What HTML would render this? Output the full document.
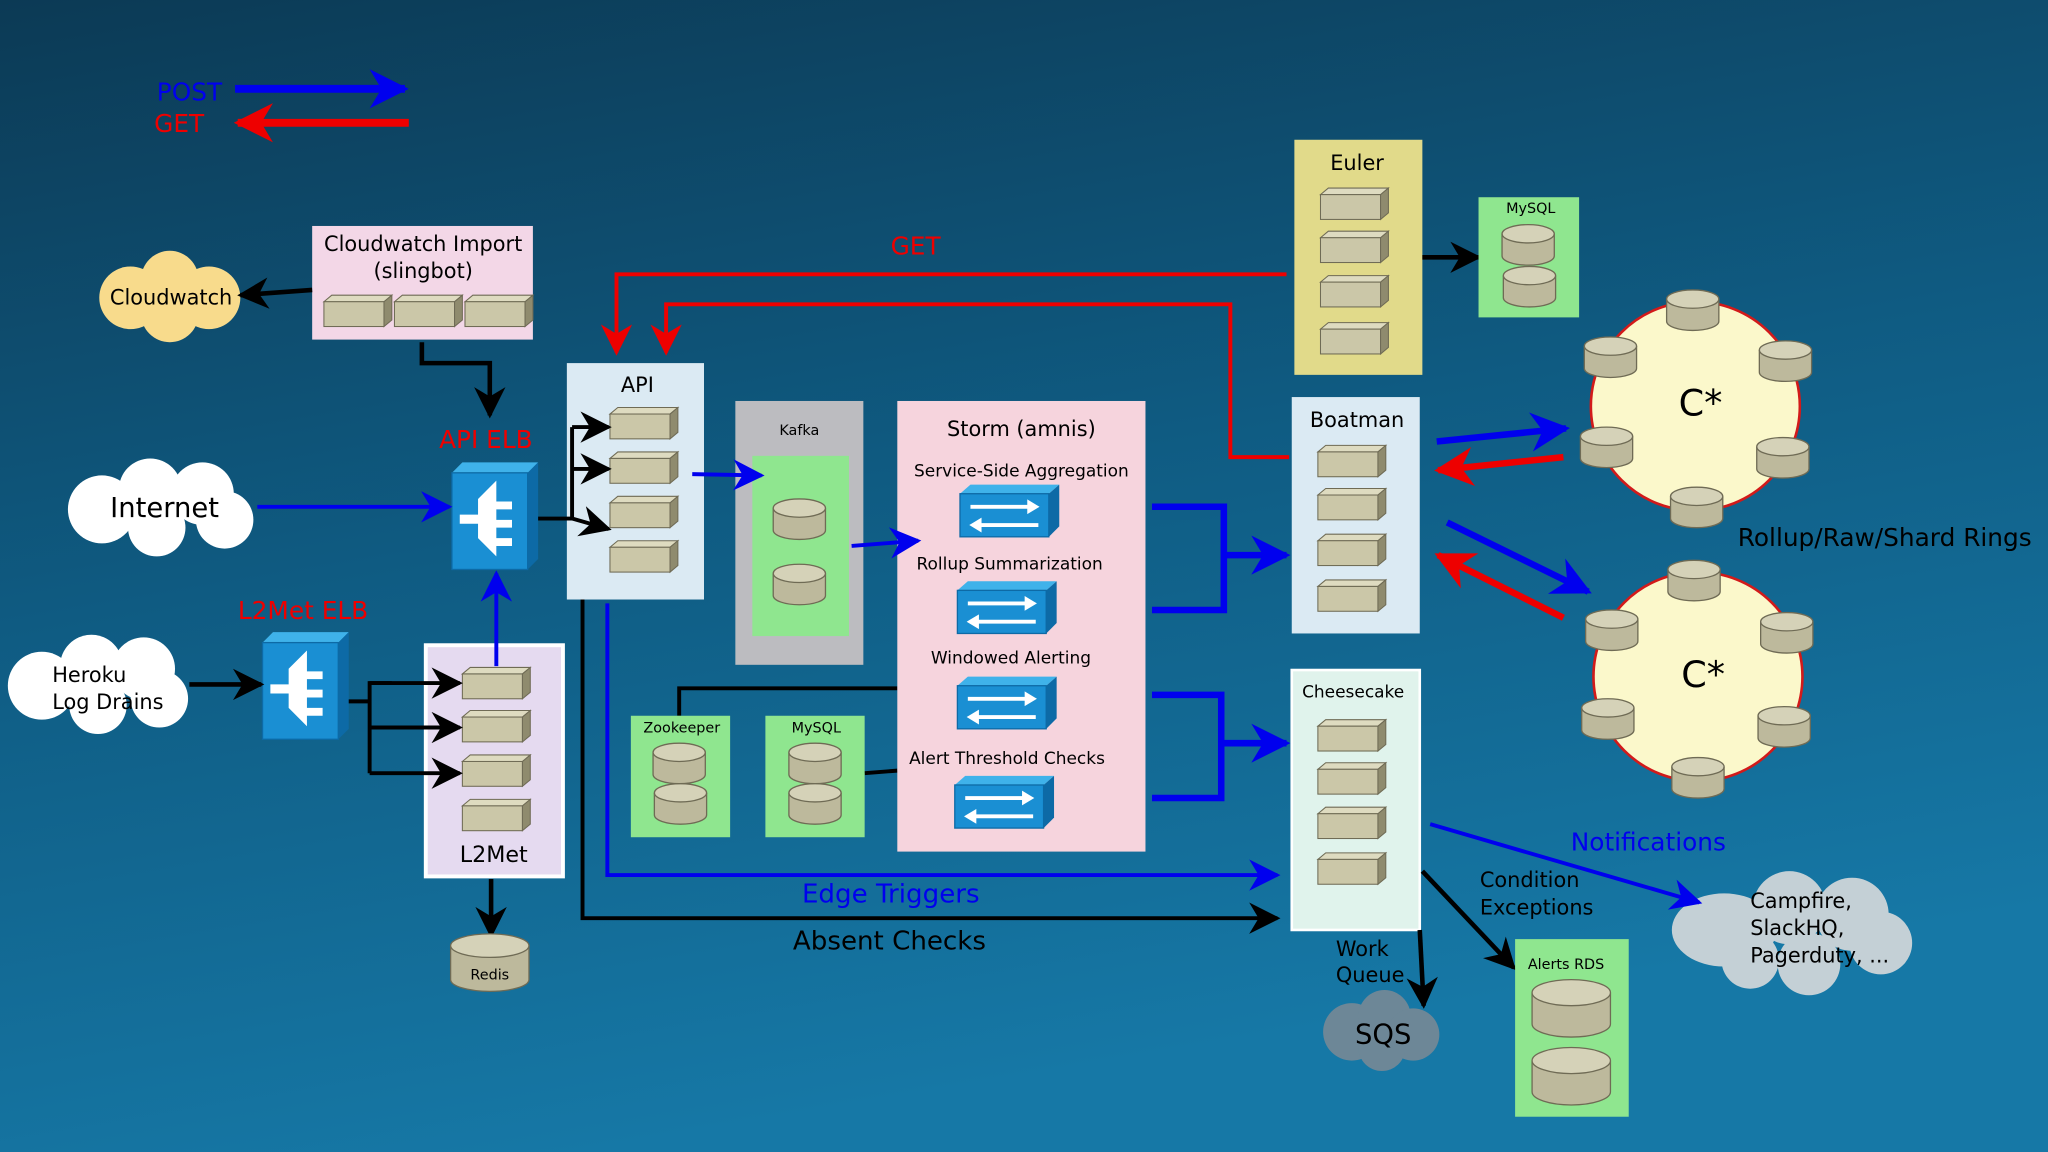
<!DOCTYPE html>
<html><head><meta charset="utf-8"><style>
html,body{margin:0;padding:0;width:2048px;height:1152px;overflow:hidden}
svg{display:block}
text{font-family:"DejaVu Sans","Liberation Sans",sans-serif}
</style></head><body>
<svg width="2048" height="1152" viewBox="0 0 1568 882" xmlns="http://www.w3.org/2000/svg">
<defs>
<linearGradient id="bg" x1="0" y1="0" x2="0.3" y2="1">
<stop offset="0" stop-color="#0c3a55"/><stop offset="0.5" stop-color="#0f5b82"/><stop offset="1" stop-color="#1678a6"/>
</linearGradient>
<marker id="ab" viewBox="0 0 10 10" refX="9" refY="5" markerUnits="userSpaceOnUse" markerWidth="24" markerHeight="24" orient="auto"><path d="M0,0L10,5L0,10L3,5z" fill="#0000ee"/></marker>
<marker id="ar" viewBox="0 0 10 10" refX="9" refY="5" markerUnits="userSpaceOnUse" markerWidth="24" markerHeight="24" orient="auto"><path d="M0,0L10,5L0,10L3,5z" fill="#ee0000"/></marker>
<marker id="ak" viewBox="0 0 10 10" refX="9" refY="5" markerUnits="userSpaceOnUse" markerWidth="24" markerHeight="24" orient="auto"><path d="M0,0L10,5L0,10L3,5z" fill="#000"/></marker>
<marker id="abL" viewBox="0 0 10 10" refX="9" refY="5" markerUnits="userSpaceOnUse" markerWidth="30" markerHeight="30" orient="auto"><path d="M0,0L10,5L0,10L3,5z" fill="#0000ee"/></marker>
<marker id="arL" viewBox="0 0 10 10" refX="9" refY="5" markerUnits="userSpaceOnUse" markerWidth="30" markerHeight="30" orient="auto"><path d="M0,0L10,5L0,10L3,5z" fill="#ee0000"/></marker>
<g id="srv"><polygon points="0,5 6,0 52,0 46,5" fill="#dedbc0" stroke="#6f6b55" stroke-width="0.8"/><rect x="0" y="5" width="46" height="19" fill="#cbc7a8" stroke="#6f6b55" stroke-width="0.8"/><polygon points="46,5 52,0 52,19 46,24" fill="#8f8b6e" stroke="#6f6b55" stroke-width="0.8"/></g>
<g id="cyl"><path d="M0,7 L0,24 A20,7 0 0 0 40,24 L40,7" fill="#bdb99c" stroke="#6f6b55"/><ellipse cx="20" cy="7" rx="20" ry="7" fill="#d5d2b8" stroke="#6f6b55"/></g>
<g id="strm"><polygon points="0,7 8,0 76,0 68,7" fill="#3fb2ea"/><rect x="0" y="7" width="68" height="33" fill="#1a8fd3" stroke="#0d6aa6"/><polygon points="68,7 76,0 76,32 68,40" fill="#0d6aa6"/><path d="M8,17 H58 M58,17 l-5,-3 v6z M60,31 H10 M10,31 l5,-3 v6z" stroke="#fff" stroke-width="3" fill="#fff"/></g>
<g id="elb"><polygon points="0,8 8,0 66,0 58,8" fill="#3fb2ea"/><rect x="0" y="8" width="58" height="74" fill="#1a8fd3" stroke="#0d6aa6"/><polygon points="58,8 66,0 66,74 58,82" fill="#0d6aa6"/><path d="M20,28 L34,14 L34,72 L20,58 L20,47 L6,47 L6,40 L20,40z M34,30 H46 V36 H34z M34,44 H46 V50 H34z M34,58 H46 V64 H34z" fill="#fff"/></g>
</defs>
<rect width="1568" height="882" fill="url(#bg)"/>

<!-- legend -->
<text x="120" y="77" fill="#0000ee" font-size="19">POST</text>
<line x1="180" y1="68" x2="310" y2="68" stroke="#0000ee" stroke-width="6" marker-end="url(#abL)"/>
<text x="118" y="101" fill="#ee0000" font-size="19">GET</text>
<line x1="313" y1="94" x2="182" y2="94" stroke="#ee0000" stroke-width="6" marker-end="url(#arL)"/>

<!-- clouds -->
<g fill="#f8db8c"><circle cx="100" cy="228" r="24"/><circle cx="130" cy="214" r="22"/><circle cx="160" cy="228" r="24"/><circle cx="130" cy="240" r="22"/></g>
<text x="131" y="233" font-size="16" text-anchor="middle">Cloudwatch</text>
<g fill="#fff"><circle cx="78" cy="390" r="26"/><circle cx="115" cy="375" r="24"/><circle cx="155" cy="378" r="24"/><circle cx="172" cy="398" r="22"/><circle cx="120" cy="404" r="22"/></g>
<text x="126" y="396" font-size="21" text-anchor="middle">Internet</text>
<g fill="#fff"><circle cx="32" cy="525" r="26"/><circle cx="70" cy="510" r="24"/><circle cx="110" cy="512" r="24"/><circle cx="122" cy="535" r="22"/><circle cx="75" cy="540" r="22"/></g>
<text x="40" y="522" font-size="16">Heroku</text><text x="40" y="543" font-size="16">Log Drains</text>
<g fill="#c4d0d6"><ellipse cx="1320" cy="712" rx="40" ry="28"/><circle cx="1370" cy="695" r="28"/><circle cx="1418" cy="700" r="28"/><circle cx="1440" cy="722" r="24"/><circle cx="1385" cy="738" r="24"/><circle cx="1340" cy="735" r="22"/></g>
<text x="1340" y="695" font-size="16">Campfire,</text><text x="1340" y="716" font-size="16">SlackHQ,</text><text x="1340" y="737" font-size="16">Pagerduty, ...</text>
<g fill="#6d8797"><circle cx="1035" cy="790" r="22"/><circle cx="1060" cy="778" r="20"/><circle cx="1082" cy="792" r="20"/><circle cx="1058" cy="802" r="18"/></g>
<text x="1059" y="799" font-size="21" text-anchor="middle">SQS</text>

<!-- Cloudwatch import -->
<rect x="239" y="173" width="169" height="87" fill="#f3d7e7"/>
<text x="324" y="192" font-size="16" text-anchor="middle">Cloudwatch Import</text>
<text x="324" y="213" font-size="16" text-anchor="middle">(slingbot)</text>
<use href="#srv" x="248" y="226"/><use href="#srv" x="302" y="226"/><use href="#srv" x="356" y="226"/>
<line x1="239" y1="222" x2="184" y2="226" stroke="#000" stroke-width="3.5" marker-end="url(#ak)"/>
<polyline points="323,262 323,278 375,278 375,318" fill="none" stroke="#000" stroke-width="3.5" marker-end="url(#ak)"/>

<!-- ELBs -->
<text x="372" y="343" fill="#ee0000" font-size="19" text-anchor="middle">API ELB</text>
<use href="#elb" x="346" y="354"/>
<line x1="197" y1="388" x2="344" y2="388" stroke="#0000ee" stroke-width="3" marker-end="url(#ab)"/>
<text x="232" y="474" fill="#ee0000" font-size="19" text-anchor="middle">L2Met ELB</text>
<use href="#elb" x="201" y="484"/>
<line x1="145" y1="524" x2="200" y2="524" stroke="#000" stroke-width="3.5" marker-end="url(#ak)"/>

<!-- L2Met -->
<rect x="326" y="494" width="105" height="177" fill="#e5daf0" stroke="#fff" stroke-width="3"/>
<use href="#srv" x="354" y="511"/><use href="#srv" x="354" y="544"/><use href="#srv" x="354" y="578"/><use href="#srv" x="354" y="612"/>
<text x="378" y="660" font-size="17" text-anchor="middle">L2Met</text>
<path d="M267,537 H283 V592 M283,537 V523 H300" fill="none" stroke="#000" stroke-width="3"/>
<line x1="283" y1="523" x2="352" y2="523" stroke="#000" stroke-width="3" marker-end="url(#ak)"/>
<line x1="283" y1="557" x2="352" y2="557" stroke="#000" stroke-width="3" marker-end="url(#ak)"/>
<line x1="283" y1="592" x2="352" y2="592" stroke="#000" stroke-width="3" marker-end="url(#ak)"/>
<line x1="380" y1="510" x2="380" y2="439" stroke="#0000ee" stroke-width="3" marker-end="url(#ab)"/>
<line x1="376" y1="673" x2="376" y2="716" stroke="#000" stroke-width="3.5" marker-end="url(#ak)"/>
<path d="M345,724 L345,750 A30,9 0 0 0 405,750 L405,724" fill="#bdb99c" stroke="#6f6b55"/><ellipse cx="375" cy="724" rx="30" ry="9" fill="#d5d2b8" stroke="#6f6b55"/>
<text x="375" y="750" font-size="11" text-anchor="middle">Redis</text>

<!-- API -->
<rect x="434" y="278" width="105" height="181" fill="#dbeaf3"/>
<text x="488" y="300" font-size="16" text-anchor="middle">API</text>
<use href="#srv" x="467" y="312"/><use href="#srv" x="467" y="346"/><use href="#srv" x="467" y="380"/><use href="#srv" x="467" y="414"/>
<path d="M412,397 H438 M438,327 V397" stroke="#000" stroke-width="3" fill="none"/>
<line x1="438" y1="327" x2="466" y2="327" stroke="#000" stroke-width="3" marker-end="url(#ak)"/>
<line x1="438" y1="359" x2="466" y2="359" stroke="#000" stroke-width="3" marker-end="url(#ak)"/>
<line x1="438" y1="397" x2="466" y2="405" stroke="#000" stroke-width="3" marker-end="url(#ak)"/>

<!-- Kafka -->
<rect x="563" y="307" width="98" height="202" fill="#bcbcc0"/>
<text x="612" y="333" font-size="11" text-anchor="middle">Kafka</text>
<rect x="576" y="349" width="74" height="138" fill="#8fe68f"/>
<use href="#cyl" x="592" y="382"/><use href="#cyl" x="592" y="432"/>
<line x1="530" y1="363" x2="583" y2="364" stroke="#0000ee" stroke-width="3" marker-end="url(#ab)"/>

<!-- Zookeeper & MySQL -->
<polyline points="520,548 520,527 687,527" fill="none" stroke="#000" stroke-width="3"/>
<line x1="662" y1="592" x2="687" y2="590" stroke="#000" stroke-width="3"/>
<rect x="483" y="548" width="76" height="93" fill="#8fe68f"/>
<text x="522" y="561" font-size="11" text-anchor="middle">Zookeeper</text>
<use href="#cyl" x="500" y="569"/><use href="#cyl" x="501" y="600"/>
<rect x="586" y="548" width="76" height="93" fill="#8fe68f"/>
<text x="625" y="561" font-size="11" text-anchor="middle">MySQL</text>
<use href="#cyl" x="604" y="569"/><use href="#cyl" x="604" y="600"/>

<!-- Storm -->
<rect x="687" y="307" width="190" height="345" fill="#f6d4dd"/>
<text x="782" y="334" font-size="16" text-anchor="middle">Storm (amnis)</text>
<text x="782" y="365" font-size="13" text-anchor="middle">Service-Side Aggregation</text>
<use href="#strm" x="735" y="371"/>
<text x="773" y="436" font-size="13" text-anchor="middle">Rollup Summarization</text>
<use href="#strm" x="733" y="445"/>
<text x="774" y="508" font-size="13" text-anchor="middle">Windowed Alerting</text>
<use href="#strm" x="733" y="518"/>
<text x="771" y="585" font-size="13" text-anchor="middle">Alert Threshold Checks</text>
<use href="#strm" x="731" y="594"/>
<line x1="652" y1="418" x2="703" y2="414" stroke="#0000ee" stroke-width="3" marker-end="url(#ab)"/>

<!-- storm to boatman / cheesecake -->
<polyline points="882,388 937,388 937,467 882,467" fill="none" stroke="#0000ee" stroke-width="5"/>
<line x1="937" y1="425" x2="985" y2="425" stroke="#0000ee" stroke-width="5" marker-end="url(#abL)"/>
<polyline points="882,532 935,532 935,611 882,611" fill="none" stroke="#0000ee" stroke-width="5"/>
<line x1="935" y1="569" x2="985" y2="569" stroke="#0000ee" stroke-width="5" marker-end="url(#abL)"/>

<!-- edge triggers / absent checks -->
<polyline points="465,462 465,670 978,670" fill="none" stroke="#0000ee" stroke-width="3" marker-end="url(#ab)"/>
<text x="682" y="691" fill="#0000ee" font-size="20" text-anchor="middle">Edge Triggers</text>
<polyline points="446,459 446,703 978,703" fill="none" stroke="#000" stroke-width="3" marker-end="url(#ak)"/>
<text x="681" y="727" font-size="20" text-anchor="middle">Absent Checks</text>

<!-- GET red lines -->
<polyline points="985,210 472,210 472,270" fill="none" stroke="#ee0000" stroke-width="3" marker-end="url(#ar)"/>
<polyline points="987,350 942,350 942,233 510,233 510,270" fill="none" stroke="#ee0000" stroke-width="3" marker-end="url(#ar)"/>
<text x="701" y="195" fill="#ee0000" font-size="19" text-anchor="middle">GET</text>

<!-- Euler -->
<rect x="991" y="107" width="98" height="180" fill="#e1da8a"/>
<text x="1039" y="130" font-size="16" text-anchor="middle">Euler</text>
<use href="#srv" x="1011" y="144"/><use href="#srv" x="1011" y="177"/><use href="#srv" x="1011" y="211"/><use href="#srv" x="1011" y="247"/>
<line x1="1089" y1="197" x2="1132" y2="197" stroke="#000" stroke-width="3.5" marker-end="url(#ak)"/>
<rect x="1132" y="151" width="77" height="92" fill="#8fe68f"/>
<text x="1172" y="163" font-size="11" text-anchor="middle">MySQL</text>
<use href="#cyl" x="1150" y="172"/><use href="#cyl" x="1151" y="204"/>

<!-- Boatman -->
<rect x="989" y="304" width="98" height="181" fill="#dbeaf3"/>
<text x="1039" y="327" font-size="16" text-anchor="middle">Boatman</text>
<use href="#srv" x="1009" y="341"/><use href="#srv" x="1009" y="374"/><use href="#srv" x="1009" y="409"/><use href="#srv" x="1009" y="444"/>

<!-- Cheesecake -->
<rect x="989" y="513" width="98" height="199" fill="#e0f3ec" stroke="#fff" stroke-width="2"/>
<text x="1036" y="534" font-size="13" text-anchor="middle">Cheesecake</text>
<use href="#srv" x="1009" y="551"/><use href="#srv" x="1009" y="584"/><use href="#srv" x="1009" y="618"/><use href="#srv" x="1009" y="653"/>

<!-- rings -->
<circle cx="1298" cy="311" r="80" fill="#fbf8cb" stroke="#d21a1a" stroke-width="2"/>
<text x="1302" y="318" font-size="28" text-anchor="middle">C*</text>
<use href="#cyl" x="1276" y="222"/><use href="#cyl" x="1213" y="258"/><use href="#cyl" x="1347" y="261"/><use href="#cyl" x="1210" y="327"/><use href="#cyl" x="1345" y="335"/><use href="#cyl" x="1279" y="373"/>
<circle cx="1300" cy="518" r="80" fill="#fbf8cb" stroke="#d21a1a" stroke-width="2"/>
<text x="1304" y="526" font-size="28" text-anchor="middle">C*</text>
<use href="#cyl" x="1277" y="429"/><use href="#cyl" x="1214" y="467"/><use href="#cyl" x="1348" y="469"/><use href="#cyl" x="1211" y="535"/><use href="#cyl" x="1346" y="541"/><use href="#cyl" x="1280" y="580"/>
<text x="1443" y="418" font-size="19" text-anchor="middle">Rollup/Raw/Shard Rings</text>
<line x1="1100" y1="338" x2="1199" y2="328" stroke="#0000ee" stroke-width="5" marker-end="url(#abL)"/>
<line x1="1197" y1="350" x2="1101" y2="360" stroke="#ee0000" stroke-width="5" marker-end="url(#arL)"/>
<line x1="1108" y1="400" x2="1216" y2="453" stroke="#0000ee" stroke-width="5" marker-end="url(#abL)"/>
<line x1="1197" y1="473" x2="1101" y2="425" stroke="#ee0000" stroke-width="5" marker-end="url(#arL)"/>

<!-- notifications -->
<line x1="1095" y1="631" x2="1301" y2="691" stroke="#0000ee" stroke-width="3" marker-end="url(#ab)"/>
<text x="1262" y="651" fill="#0000ee" font-size="19" text-anchor="middle">Notifications</text>
<line x1="1089" y1="667" x2="1159" y2="741" stroke="#000" stroke-width="3.5" marker-end="url(#ak)"/>
<text x="1133" y="679" font-size="16">Condition</text><text x="1133" y="700" font-size="16">Exceptions</text>
<rect x="1160" y="719" width="87" height="136" fill="#8fe68f"/>
<text x="1199" y="742" font-size="11" text-anchor="middle">Alerts RDS</text>
<path d="M1173,760 L1173,784 A30,10 0 0 0 1233,784 L1233,760" fill="#bdb99c" stroke="#6f6b55"/><ellipse cx="1203" cy="760" rx="30" ry="10" fill="#d5d2b8" stroke="#6f6b55"/>
<path d="M1173,812 L1173,836 A30,10 0 0 0 1233,836 L1233,812" fill="#bdb99c" stroke="#6f6b55"/><ellipse cx="1203" cy="812" rx="30" ry="10" fill="#d5d2b8" stroke="#6f6b55"/>
<line x1="1087" y1="712" x2="1090" y2="770" stroke="#000" stroke-width="3.5" marker-end="url(#ak)"/>
<text x="1043" y="732" font-size="16" text-anchor="middle">Work</text><text x="1049" y="752" font-size="16" text-anchor="middle">Queue</text>
</svg>
</body></html>
